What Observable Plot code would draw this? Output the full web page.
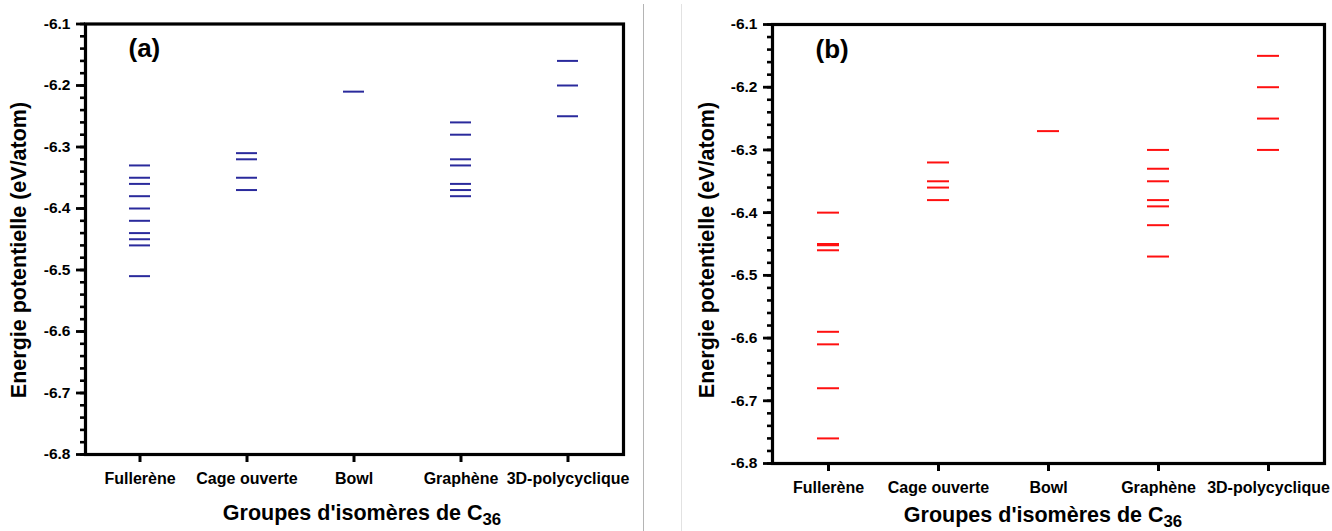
<!DOCTYPE html>
<html>
<head>
<meta charset="utf-8">
<script src="https://cdn.jsdelivr.net/npm/d3@7"></script>
<script src="https://cdn.jsdelivr.net/npm/@observablehq/plot@0.6"></script>
<style>
  html, body { margin: 0; padding: 0; background: #fff; }
  #wrap { position: relative; width: 1332px; height: 531px; overflow: hidden; font-family: "Liberation Sans", Arial, sans-serif; color: #000; }
  #row { display: flex; gap: 2px; }
  .ytitle { position: absolute; font-weight: bold; font-size: 21.5px; white-space: nowrap; transform: translate(-50%, -50%) rotate(-90deg); }
  .xtitle { position: absolute; font-weight: bold; font-size: 21.5px; line-height: 1; white-space: nowrap; transform: translate(-50%, 0); }
  .xtitle .sub { font-size: 0.78em; position: relative; top: 0.32em; }
  .sep { position: absolute; top: 4px; width: 1px; height: 527px; }
</style>
</head>
<body>
<div id="wrap"><div id="row"></div></div>
<script>
// Categories (shared by both panels)
const groups = ["Fullerène", "Cage ouverte", "Bowl", "Graphène", "3D-polycyclique"];

// Tick labels of the y axis (eV/atom)
const yTicks = [-6.8, -6.7, -6.6, -6.5, -6.4, -6.3, -6.2, -6.1];

// Panel (a) values, eV/atom
const aFullerene = [-6.33, -6.35, -6.36, -6.38, -6.40, -6.42, -6.44, -6.45, -6.46, -6.51];
const aCage = [-6.31, -6.32, -6.35, -6.37];
const aBowl = [-6.21];
const aGraphene = [-6.26, -6.28, -6.32, -6.33, -6.36, -6.37, -6.38];
const a3D = [-6.16, -6.20, -6.25];

// Panel (b) values, eV/atom
const bFullerene = [-6.40, -6.45, -6.452, -6.46, -6.59, -6.61, -6.68, -6.76];
const bCage = [-6.32, -6.35, -6.36, -6.38];
const bBowl = [-6.27];
const bGraphene = [-6.30, -6.33, -6.35, -6.38, -6.39, -6.42, -6.47];
const b3D = [-6.15, -6.20, -6.25, -6.30];

function table(lists) {
  const rows = [];
  lists.forEach((vals, i) => vals.forEach(v => rows.push({group: groups[i], value: v})));
  return rows;
}
const dataA = table([aFullerene, aCage, aBowl, aGraphene, a3D]);
const dataB = table([bFullerene, bCage, bBowl, bGraphene, b3D]);

const minorTicks = d3.range(0, 36).map(i => +(-6.8 + i * 0.02).toFixed(2));
const FONT = "Liberation Sans, Arial, sans-serif";

function panel({data, color, width, ml, mr, mt, mb, tag}) {
  return Plot.plot({
    width, height: 531,
    marginLeft: ml, marginRight: mr, marginTop: mt, marginBottom: mb,
    style: {fontFamily: FONT},
    x: {type: "band", domain: groups, paddingInner: 0.8, paddingOuter: 0.4, label: null},
    y: {domain: [-6.8, -6.1], label: null},
    marks: [
      Plot.axisY({ticks: minorTicks, tickSize: 5, tickFormat: () => "", stroke: "black", strokeWidth: 2.6, label: null}),
      Plot.axisY({ticks: yTicks, tickSize: 9, tickPadding: 6, tickFormat: d => d.toFixed(1),
                  fontSize: 15.5, fontWeight: "bold", fontFamily: FONT, stroke: "black", strokeWidth: 2.8, label: null}),
      Plot.axisX({tickSize: 8, tickPadding: 10, fontSize: 16, fontWeight: "bold", fontFamily: FONT,
                  stroke: "black", strokeWidth: 3, label: null}),
      Plot.tickY(data, {x: "group", y: "value", stroke: color, strokeWidth: 2}),
      Plot.frame({strokeWidth: 3.2, stroke: "black"}),
      Plot.text([tag], {frameAnchor: "top-left", dx: 43, dy: 25, textAnchor: "start", lineAnchor: "middle",
                        fontSize: 26, fontWeight: "bold", fontFamily: FONT, fill: "black"})
    ]
  });
}

const wrap = document.getElementById("wrap");
const row = document.getElementById("row");

row.appendChild(panel({data: dataA, color: "#2a2a9c", width: 643, ml: 85, mr: 20, mt: 23.5, mb: 77, tag: "(a)"}));
row.appendChild(panel({data: dataB, color: "#ff1010", width: 687, ml: 127, mr: 8, mt: 24, mb: 68, tag: "(b)"}));

function addDiv(cls, html, css) {
  const d = document.createElement("div");
  d.className = cls; d.innerHTML = html;
  Object.assign(d.style, css);
  wrap.appendChild(d);
}
addDiv("sep", "", {left: "643px", background: "#b4b4b4"});
addDiv("sep", "", {left: "681px", background: "#e2e2e2"});

addDiv("ytitle", "Energie potentielle (eV/atom)", {left: "19px", top: "250px"});
addDiv("ytitle", "Energie potentielle (eV/atom)", {left: "707px", top: "250px"});
addDiv("xtitle", "Groupes d'isomères de C<span class=\"sub\">36</span>", {left: "362px", top: "503px"});
addDiv("xtitle", "Groupes d'isomères de C<span class=\"sub\">36</span>", {left: "1043px", top: "505px"});
</script>
</body>
</html>
